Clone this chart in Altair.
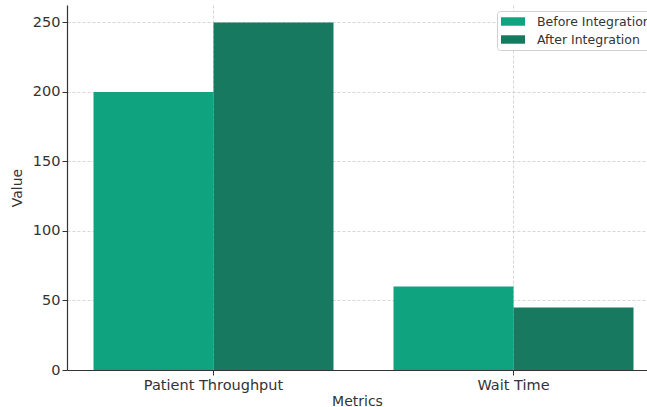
import altair as alt
import pandas as pd

# Metrics compared before and after integration
metrics = ["Patient Throughput", "Wait Time"]
phases = ["Before Integration", "After Integration"]
before_values = [200, 60]
after_values = [250, 45]
colors = ["#10a37f", "#177a60"]

rows = []
for m, b, a in zip(metrics, before_values, after_values):
    rows.append({"Metrics": m, "Phase": phases[0], "Value": b})
    rows.append({"Metrics": m, "Phase": phases[1], "Value": a})
df = pd.DataFrame(rows)

FONT = "DejaVu Sans"
TEXT = "#333333"

chart = (
    alt.Chart(df)
    .mark_bar()
    .encode(
        x=alt.X(
            "Metrics:N",
            sort=metrics,
            scale=alt.Scale(paddingInner=0.2, paddingOuter=0.0667, align=0.6625),
            axis=alt.Axis(
                labelAngle=0,
                grid=True,
                bandPosition=0.5,
                title="Metrics",
                titlePadding=3,
                labelPadding=3,
            ),
        ),
        xOffset=alt.XOffset("Phase:N", sort=phases, scale=alt.Scale(paddingInner=0, paddingOuter=0)),
        y=alt.Y(
            "Value:Q",
            scale=alt.Scale(domain=[0, 262.5], nice=False),
            axis=alt.Axis(values=[0, 50, 100, 150, 200, 250], title="Value", titlePadding=8),
        ),
        color=alt.Color(
            "Phase:N",
            sort=phases,
            scale=alt.Scale(domain=phases, range=colors),
            legend=alt.Legend(
                title=None,
                orient="none",
                legendX=430,
                legendY=6,
                symbolType="M-1,-0.65H2.7V0.65H-1Z",
                symbolSize=169,
                symbolStrokeWidth=0,
                labelFont=FONT,
                labelFontSize=12.5,
                labelColor=TEXT,
                labelOffset=23,
                rowPadding=5,
                padding=4,
                offset=0,
                strokeColor="#d0d0d0",
                fillColor="white",
                cornerRadius=3,
            ),
        ),
    )
    .properties(width=580, height=365, padding={"left": 67, "top": 5, "right": 0, "bottom": 37}, autosize="none")
    .configure_view(stroke=None)
    .configure_axis(
        labelFont=FONT,
        titleFont=FONT,
        labelFontSize=14.5,
        titleFontSize=14,
        titleFontWeight="normal",
        labelColor=TEXT,
        titleColor=TEXT,
        domainColor="#333333",
        domainWidth=1.2,
        tickColor="#333333",
        tickSize=5,
        gridColor="#cccccc",
        gridDash=[3, 2],
        gridWidth=0.8,
        zindex=1,
    )
)

chart.save("out.html", embed_options={"renderer": "svg", "actions": False})
